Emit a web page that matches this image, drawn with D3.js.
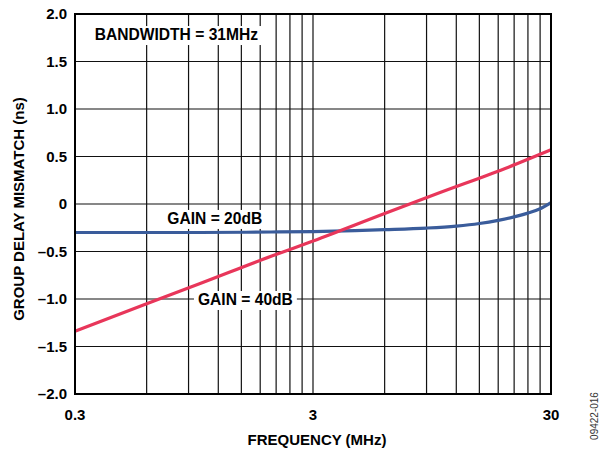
<!DOCTYPE html>
<html>
<head>
<meta charset="utf-8">
<script src="https://cdn.jsdelivr.net/npm/d3@7"></script>
<style>
  body { margin: 0; background: #fff; }
  text { font-family: 'Liberation Sans', Arial, sans-serif; }
</style>
</head>
<body>
<div id="plot"></div>
<script>
// values
var gridFreqs = [0.3, 0.6, 0.9, 1.2, 1.5, 1.8, 2.1, 2.4, 2.7, 3, 6, 9, 12, 15, 18, 21, 24, 27, 30]
var xTicks = [0.3, 3, 30]
var xTickLabels = ['0.3', '3', '30']
var yTicks = [2, 1.5, 1, 0.5, 0, -0.5, -1, -1.5, -2]
var yTickLabels = ['2.0', '1.5', '1.0', '0.5', '0', '\u20130.5', '\u20131.0', '\u20131.5', '\u20132.0']

var gain20Freq = [0.3, 0.6, 1, 2, 3, 4.5, 6, 9, 12, 15, 18, 21, 24, 27, 30]
var gain20Delay = [-0.3, -0.3, -0.3, -0.295, -0.29, -0.28, -0.27, -0.253, -0.232, -0.205, -0.172, -0.136, -0.096, -0.05, 0.015]

var gain40Freq = [0.3, 0.6, 1, 2, 3, 6, 10, 20, 30]
var gain40Delay = [-1.34, -1.05, -0.84, -0.55, -0.39, -0.1, 0.11, 0.39, 0.57]

var notes = [
  { text: 'BANDWIDTH = 31MHz', f: 0.8, v: 1.726 },
  { text: 'GAIN = 20dB', f: 1.16, v: -0.21 },
  { text: 'GAIN = 40dB', f: 1.56, v: -1.063 }
]

var margin = { top: 14, right: 53, bottom: 55, left: 75 }
var width = 604 - margin.left - margin.right
var height = 449 - margin.top - margin.bottom

var xScale = d3.scaleLog().domain([0.3, 30]).range([0, width])
var yScale = d3.scaleLinear().domain([-2, 2]).range([height, 0])

var svg = d3
  .select('#plot')
  .append('svg')
  .attr('width', 604)
  .attr('height', 449)

var g = svg
  .append('g')
  .attr('transform', 'translate(' + margin.left + ',' + margin.top + ')')

// grid
g.append('g')
  .selectAll('line')
  .data(gridFreqs)
  .enter()
  .append('line')
  .attr('x1', function(d) { return xScale(d) })
  .attr('x2', function(d) { return xScale(d) })
  .attr('y1', 0)
  .attr('y2', height)
  .style('stroke', '#111')
  .style('stroke-width', 1.2)

g.append('g')
  .selectAll('line')
  .data(yTicks)
  .enter()
  .append('line')
  .attr('x1', 0)
  .attr('x2', width)
  .attr('y1', function(d) { return yScale(d) })
  .attr('y2', function(d) { return yScale(d) })
  .style('stroke', '#111')
  .style('stroke-width', 1.2)

// tick labels
g.append('g')
  .selectAll('text')
  .data(yTicks)
  .enter()
  .append('text')
  .attr('x', -8)
  .attr('y', function(d) { return yScale(d) })
  .attr('dy', '0.36em')
  .attr('text-anchor', 'end')
  .style('font-size', '15px')
  .style('font-weight', 'bold')
  .text(function(d, i) { return yTickLabels[i] })

g.append('g')
  .selectAll('text')
  .data(xTicks)
  .enter()
  .append('text')
  .attr('x', function(d) { return xScale(d) })
  .attr('y', height + 26)
  .attr('text-anchor', 'middle')
  .style('font-size', '15px')
  .style('font-weight', 'bold')
  .text(function(d, i) { return xTickLabels[i] })

// curves
var plotLine = d3
  .line()
  .curve(d3.curveMonotoneX)
  .x(function(d) { return xScale(d[0]) })
  .y(function(d) { return yScale(d[1]) })

g.append('path')
  .datum(d3.zip(gain20Freq, gain20Delay))
  .attr('d', plotLine)
  .style('fill', 'none')
  .style('stroke', '#3a5c9b')
  .style('stroke-width', 3.2)

g.append('path')
  .datum(d3.zip(gain40Freq, gain40Delay))
  .attr('d', plotLine)
  .style('fill', 'none')
  .style('stroke', '#e8365a')
  .style('stroke-width', 3.2)

// annotations with white boxes
notes.forEach(function(n) {
  var ng = g.append('g')
  var t = ng
    .append('text')
    .attr('x', xScale(n.f))
    .attr('y', yScale(n.v))
    .attr('text-anchor', 'middle')
    .style('font-size', '15.6px')
    .style('font-weight', 'bold')
    .text(n.text)
  var bb = t.node().getBBox()
  ng.insert('rect', 'text')
    .attr('x', bb.x - 4)
    .attr('y', bb.y)
    .attr('width', bb.width + 8)
    .attr('height', bb.height + 2)
    .style('fill', '#fff')
})

// frame
g.append('rect')
  .attr('width', width)
  .attr('height', height)
  .style('fill', 'none')
  .style('stroke', '#000')
  .style('stroke-width', 2)

// axis titles
svg
  .append('text')
  .attr('x', margin.left + width / 2 + 4)
  .attr('y', 445)
  .attr('text-anchor', 'middle')
  .style('font-size', '15px')
  .style('font-weight', 'bold')
  .text('FREQUENCY (MHz)')

svg
  .append('text')
  .attr('transform', 'translate(24,209) rotate(-90)')
  .attr('text-anchor', 'middle')
  .style('font-size', '15px')
  .style('font-weight', 'bold')
  .text('GROUP DELAY MISMATCH (ns)')

svg
  .append('text')
  .attr('transform', 'translate(598,416) rotate(-90)')
  .attr('text-anchor', 'middle')
  .style('font-size', '10px')
  .style('fill', '#333')
  .text('09422-016')
</script>
</body>
</html>
